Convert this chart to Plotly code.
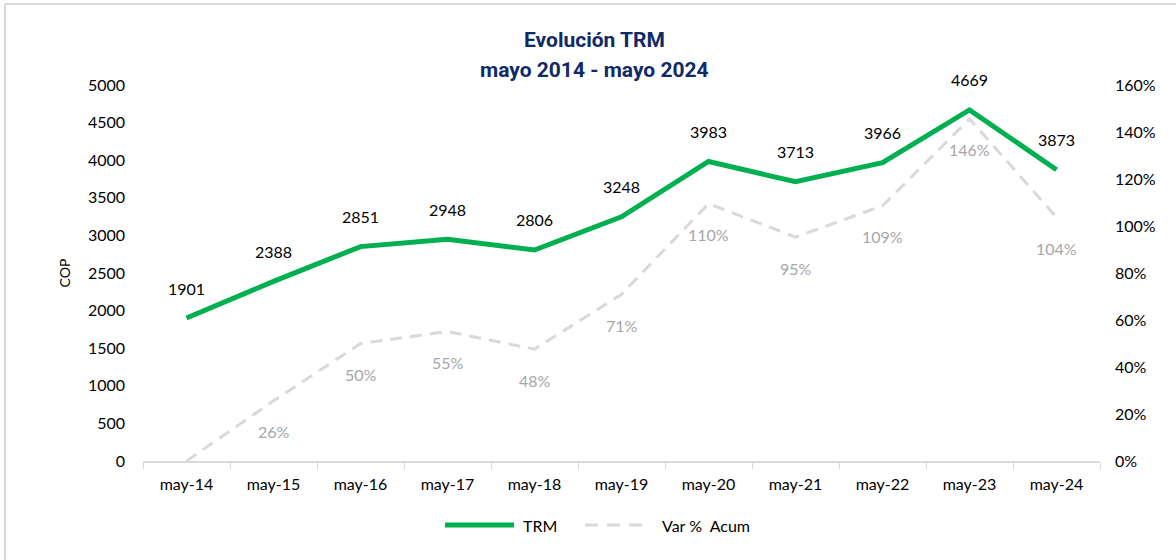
import plotly.graph_objects as go

categories = ["may-14", "may-15", "may-16", "may-17", "may-18", "may-19",
              "may-20", "may-21", "may-22", "may-23", "may-24"]
trm = [1901, 2388, 2851, 2948, 2806, 3248, 3983, 3713, 3966, 4669, 3873]
var_acum = [0.0, 0.256, 0.500, 0.551, 0.476, 0.709, 1.095, 0.953, 1.086, 1.456, 1.037]
var_labels = ["", "26%", "50%", "55%", "48%", "71%", "110%", "95%", "109%", "146%", "104%"]

FONT = "Lato, 'Open Sans', sans-serif"
TITLE_FONT = "'Liberation Sans Narrow', Roboto, sans-serif"
GREEN = "#00B050"
GREY_LINE = "#D9D9D9"
DASH = "12px,8px"

fig = go.Figure()
fig.add_trace(go.Scatter(
    x=categories, y=trm, name="TRM", mode="lines",
    line=dict(color=GREEN, width=5),
    yaxis="y", cliponaxis=False, showlegend=False,
))
fig.add_trace(go.Scatter(
    x=categories, y=var_acum, name="Var %  Acum", mode="lines",
    line=dict(color=GREY_LINE, width=3, dash=DASH),
    yaxis="y2", cliponaxis=False, showlegend=False,
))

annotations = []
for c, v in zip(categories, trm):
    annotations.append(dict(x=c, y=v, xref="x", yref="y", text=str(v),
                            showarrow=False, yshift=30,
                            font=dict(family=FONT, size=16, color="#000000")))
for c, v, t in zip(categories, var_acum, var_labels):
    if t:
        annotations.append(dict(x=c, y=v, xref="x", yref="y2", text=t,
                                showarrow=False, yshift=-31,
                                font=dict(family=FONT, size=16, color="#A6A6A6")))

# title (two lines)
annotations.append(dict(x=0.4723, y=(461 - 40) / 376, xref="paper", yref="paper",
                        xanchor="center", yanchor="middle",
                        text="<b>Evolución TRM</b>", showarrow=False,
                        font=dict(family=TITLE_FONT, size=21, color="#0F2A66")))
annotations.append(dict(x=0.4723, y=(461 - 70) / 376, xref="paper", yref="paper",
                        xanchor="center", yanchor="middle",
                        text="<b>mayo 2014 - mayo 2024</b>", showarrow=False,
                        font=dict(family=TITLE_FONT, size=21, color="#0F2A66")))

# custom legend
leg_y = (461 - 525) / 376
annotations.append(dict(x=(521 - 143) / 957, y=leg_y, xref="paper", yref="paper",
                        xanchor="left", yanchor="middle", text="TRM", showarrow=False,
                        font=dict(family=FONT, size=16, color="#000000")))
annotations.append(dict(x=(660 - 143) / 957, y=leg_y, xref="paper", yref="paper",
                        xanchor="left", yanchor="middle", text="Var %  Acum", showarrow=False,
                        font=dict(family=FONT, size=16, color="#000000")))

shapes = [
    # chart border (top and left visible)
    dict(type="line", xref="paper", yref="paper", x0=(5 - 143) / 957, x1=1.08,
         y0=(461 - 4) / 376, y1=(461 - 4) / 376, line=dict(color=GREY_LINE, width=2)),
    dict(type="line", xref="paper", yref="paper", x0=(5 - 143) / 957, x1=(5 - 143) / 957,
         y0=(461 - 4) / 376, y1=-0.27, line=dict(color=GREY_LINE, width=2)),
    # legend symbols
    dict(type="line", xref="paper", yref="paper", x0=(445 - 143) / 957, x1=(514 - 143) / 957,
         y0=leg_y, y1=leg_y, line=dict(color=GREEN, width=5)),
    dict(type="line", xref="paper", yref="paper", x0=(585 - 143) / 957, x1=(642 - 143) / 957,
         y0=leg_y, y1=leg_y, line=dict(color=GREY_LINE, width=3, dash="13px,9px")),
]

fig.update_layout(
    width=1176, height=560,
    margin=dict(l=143, r=76, t=85, b=99, autoexpand=False),
    paper_bgcolor="white", plot_bgcolor="white",
    font=dict(family=FONT, size=16, color="#000000"),
    showlegend=False,
    xaxis=dict(type="category", range=[-0.5, len(categories) - 0.5],
               showline=True, linecolor=GREY_LINE, linewidth=1.5,
               ticks="outside", tickson="boundaries", ticklen=6, tickcolor=GREY_LINE,
               showgrid=False, zeroline=False, automargin=False,
               ticklabelstandoff=8,
               tickfont=dict(family=FONT, size=16, color="#000000")),
    yaxis=dict(range=[0, 5000], dtick=500, showgrid=False, zeroline=False,
               showline=False, ticks="", ticklabelstandoff=17, automargin=False,
               title=dict(text="COP", font=dict(family=FONT, size=14, color="#000000"),
                          standoff=13),
               tickfont=dict(family=FONT, size=16, color="#000000")),
    yaxis2=dict(range=[0, 1.6], dtick=0.2, tickformat=".0%", overlaying="y",
                side="right", showgrid=False, zeroline=False, showline=False,
                ticklabelstandoff=14, automargin=False,
                tickfont=dict(family=FONT, size=16, color="#000000")),
    annotations=annotations,
    shapes=shapes,
)

fig.write_html("out.html", config={"displayModeBar": False},
               post_script="document.body.style.margin='0';")
